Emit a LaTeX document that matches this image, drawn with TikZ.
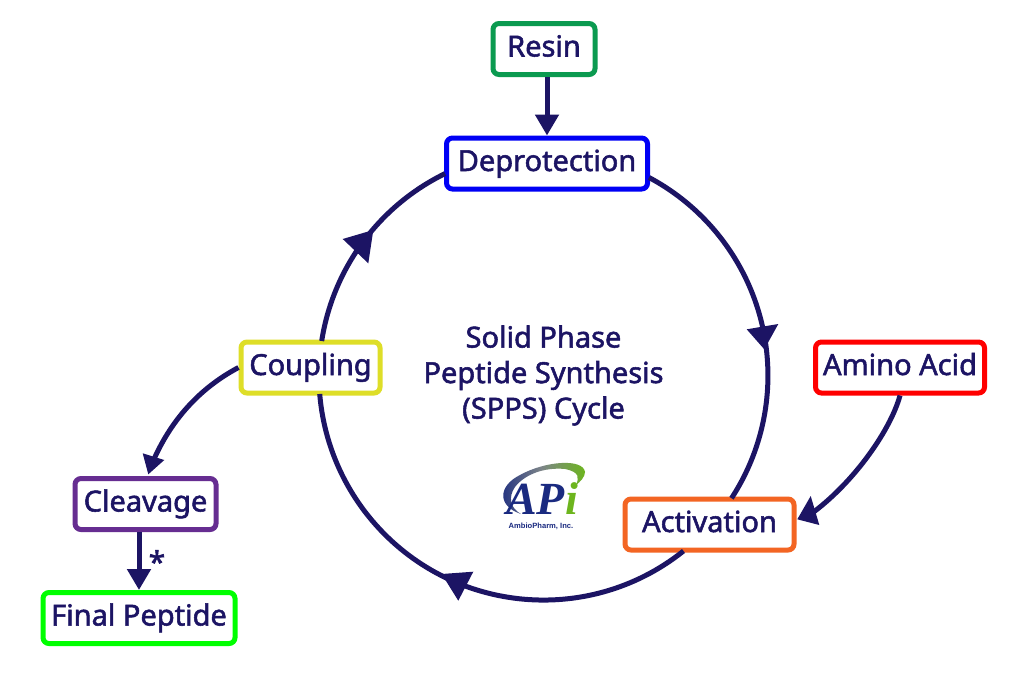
\documentclass[tikz,border=0pt]{standalone}
\usepackage{fontspec}
\setmainfont{Noto Sans}
\newfontfamily\lab[FakeBold=1.8]{Noto Sans}
\newfontfamily\logoserif{Liberation Serif}
\newfontfamily\logosans{Liberation Sans}
\usetikzlibrary{arrows.meta,calc}
\definecolor{ink}{HTML}{1C1464}
\definecolor{logoblue}{HTML}{1A2A80}
\definecolor{logogreen}{HTML}{6DB51E}
\definecolor{logomid}{HTML}{7C8488}
\definecolor{cresin}{HTML}{0B9A50}
\definecolor{cdep}{HTML}{0000F5}
\definecolor{camino}{HTML}{FF0000}
\definecolor{cact}{HTML}{F36523}
\definecolor{ccoup}{HTML}{DEDE28}
\definecolor{ccleave}{HTML}{662D91}
\definecolor{cfinal}{HTML}{00FF00}
\tikzset{
  x=1pt,y=-1pt,
  box/.style={draw=#1,line width=5pt,rounded corners=6pt,fill=white,text=ink,inner sep=0pt,
    text height=22pt,text depth=7pt,minimum height=51pt,font=\lab\fontsize{29}{32}\selectfont},
  conn/.style={draw=ink,line width=5pt},
  tip/.style={-{Triangle[length=21pt,width=23pt]}},
  head/.style={fill=ink},
  caption/.style={text=ink,align=center,font=\lab\fontsize{29}{35.5}\selectfont}
}
\begin{document}
\begin{tikzpicture}
\useasboundingbox (0,0) rectangle (1024,675);
\fill[white] (0,0) rectangle (1024,675);
\coordinate (ctr) at (543.5,375.5);
\node[box=cresin,minimum width=102pt] (resin) at (544,49) {Resin};
\node[box=cdep,minimum width=201pt] (dep) at (547,163.5) {Deprotection};
\node[box=camino,minimum width=169pt] (amino) at (900,367.5) {Amino Acid};
\node[box=cact,minimum width=169pt] (act) at (709.5,524.5) {Activation};
\node[box=ccoup,minimum width=139pt] (coup) at (310.5,367.5) {Coupling};
\node[box=ccleave,minimum width=141pt] (cleave) at (145.5,504) {Cleavage};
\node[box=cfinal,minimum width=192pt] (final) at (139,618) {Final Peptide};
% ring connectors: each runs between the borders of two boxes
\coordinate (depR) at ($(ctr)+(105.5,-198)$);
\coordinate (actB) at ($(ctr)+(140,175.5)$);
\coordinate (coupT) at ($(ctr)+(-221.8,-34.5)$);
\draw[conn] (depR) arc[start angle=-61.95,end angle=33.1,radius=224.5];
\draw[conn] (actB) arc[start angle=51.4,end angle=175.3,radius=224.5];
\draw[conn] (coupT) arc[start angle=188.8,end angle=244,radius=224.5];
\fill[head] (746.7,329.3) -- (778.3,324) -- (764.3,349.3) -- cycle;
\fill[head] (441.7,574) -- (473.3,571.7) -- (458.3,600.7) -- cycle;
\fill[head] (342.7,239) -- (373.3,230) -- (368.3,263.3) -- cycle;
% straight connectors
\draw[conn,tip] (resin.south -| dep.north) -- (dep.north);
\draw[conn,tip] (cleave.south -| final.north) -- (final.north);
% curved connectors
\coordinate (actIn) at ($(act.east)+(8,-6)$);
\coordinate (cleaveIn) at ($(cleave.north)+(5.5,-10)$);
\draw[conn] (amino.south) .. controls (890,432) and (850,488) .. (actIn);
\fill[head] (810.7,496) -- (797.3,519.3) -- (819.3,525) -- cycle;
\draw[conn] (coup.west) .. controls (200,388) and (170,420) .. (cleaveIn);
\fill[head] (142.7,453.3) -- (164.3,460) -- (148.3,474.3) -- cycle;
\node[text=ink,font=\lab\fontsize{30}{30}\selectfont,inner sep=0pt] (star) at (157,561.5) {*};
\node[caption] (title) at (543.5,375.5) {Solid Phase\\Peptide Synthesis\\(SPPS) Cycle};
% logo
\shade[left color=logoblue,right color=logogreen,middle color=logomid]
  (521,514) .. controls (497,506) and (498,486) .. (520,475)
  .. controls (545,461) and (583,458) .. (585,472)
  .. controls (585,477) and (580,482) .. (576,485)
  .. controls (579,478) and (580,472) .. (565,469)
  .. controls (545,467) and (525,474) .. (515,487)
  .. controls (508,497) and (510,508) .. (521,514) -- cycle;
\node[font=\logoserif\bfseries\itshape\fontsize{46}{46}\selectfont,inner sep=0pt,anchor=base] (logoap) at (542,514.5) {\textcolor{logoblue}{AP}\textcolor{logogreen}{i}};
\node[text=logoblue,font=\logosans\bfseries\fontsize{7.6}{8}\selectfont,inner sep=0pt] (logotext) at (541,526.5) {AmbioPharm, Inc.};
\end{tikzpicture}
\end{document}
